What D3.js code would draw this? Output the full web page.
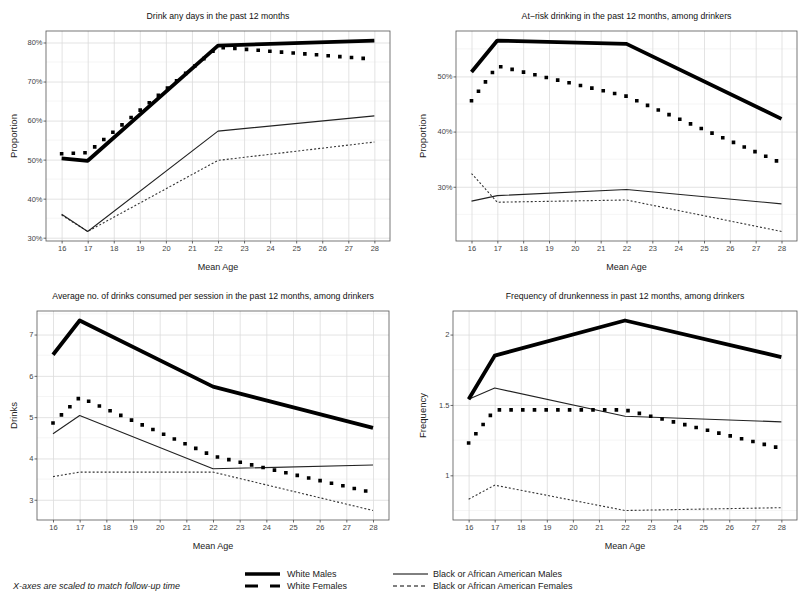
<!DOCTYPE html>
<html>
<head>
<meta charset="utf-8">
<script src="https://cdn.jsdelivr.net/npm/d3@7"></script>
<style>
  body { margin: 0; background: #fff; }
  svg { font-family: "Liberation Sans", Arial, sans-serif; }
</style>
</head>
<body>
<svg id="chart" width="800" height="594"></svg>
<script>
// mean ages at each wave
const ages = [16, 17, 22, 28];
const xTicks = [16, 17, 18, 19, 20, 21, 22, 23, 24, 25, 26, 27, 28];

const groups = ['White Males', 'White Females', 'Black or African American Males', 'Black or African American Females'];

// Drink any days in the past 12 months (%)
const anyWhiteMales = [50.3, 49.7, 79.2, 80.5];
const anyWhiteFemales = [51.5, 51.8, 78.8, 75.7];
const anyBlackMales = [36.0, 31.6, 57.3, 61.2];
const anyBlackFemales = [35.8, 31.6, 49.8, 54.5];

// At-risk drinking (%)
const riskWhiteMales = [50.8, 56.5, 55.9, 42.3];
const riskWhiteFemales = [45.6, 51.9, 46.4, 34.3];
const riskBlackMales = [27.4, 28.4, 29.5, 26.9];
const riskBlackFemales = [32.4, 27.2, 27.6, 21.9];

// Average drinks per session
const drinksWhiteMales = [6.51, 7.34, 5.74, 4.74];
const drinksWhiteFemales = [4.86, 5.48, 4.06, 3.17];
const drinksBlackMales = [4.60, 5.04, 3.75, 3.84];
const drinksBlackFemales = [3.56, 3.67, 3.67, 2.74];

// Frequency of drunkenness
const drunkWhiteMales = [1.54, 1.85, 2.10, 1.84];
const drunkWhiteFemales = [1.23, 1.465, 1.465, 1.19];
const drunkBlackMales = [1.54, 1.62, 1.42, 1.38];
const drunkBlackFemales = [0.83, 0.93, 0.75, 0.77];

const pctTicks = [30, 40, 50, 60, 70, 80];
const riskTicks = [30, 40, 50];
const drinksTicks = [3, 4, 5, 6, 7];
const drunkTicks = [1, 1.5, 2];

const panels = [
  { title: 'Drink any days in the past 12 months', yLabel: 'Proportion', yLabelX: 14,
    series: [anyWhiteMales, anyWhiteFemales, anyBlackMales, anyBlackFemales],
    ticks: pctTicks, fmt: (d) => d + '%',
    box: { left: 46, right: 390, top: 31, bottom: 241 } },
  { title: 'At\u2212risk drinking in the past 12 months, among drinkers', yLabel: 'Proportion', yLabelX: 423,
    series: [riskWhiteMales, riskWhiteFemales, riskBlackMales, riskBlackFemales],
    ticks: riskTicks, fmt: (d) => d + '%',
    box: { left: 456, right: 797, top: 31, bottom: 241 } },
  { title: 'Average no. of drinks consumed per session in the past 12 months, among drinkers', yLabel: 'Drinks', yLabelX: 14,
    series: [drinksWhiteMales, drinksWhiteFemales, drinksBlackMales, drinksBlackFemales],
    ticks: drinksTicks, fmt: (d) => String(d),
    box: { left: 37, right: 389, top: 311, bottom: 520 } },
  { title: 'Frequency of drunkenness in past 12 months, among drinkers', yLabel: 'Frequency', yLabelX: 423,
    series: [drunkWhiteMales, drunkWhiteFemales, drunkBlackMales, drunkBlackFemales],
    ticks: drunkTicks, fmt: (d) => String(d),
    box: { left: 453, right: 797, top: 311, bottom: 520 } },
];

// line look per group, drawn back to front
const styles = [
  { width: 3.8, color: '#000', dash: null, cap: 'butt' },
  { width: 3.6, color: '#000', dash: '0,11.7', cap: 'square' },
  { width: 1.1, color: '#222', dash: null, cap: 'butt' },
  { width: 1.1, color: '#333', dash: '2,2', cap: 'butt' },
];
const drawOrder = [3, 2, 1, 0];

const svg = d3.select('#chart');

panels.forEach((p) => {
  const b = p.box;
  const g = svg.append('g');

  const x = d3.scaleLinear().domain([15.4, 28.6]).range([b.left, b.right]);

  const all = p.series.flat();
  const [lo, hi] = d3.extent(all);
  const pad = (hi - lo) * 0.05;
  const y = d3.scaleLinear().domain([lo - pad, hi + pad]).range([b.bottom, b.top]);

  // minor gridlines halfway between y ticks
  const step = p.ticks[1] - p.ticks[0];
  const minor = [p.ticks[0] - step / 2, ...p.ticks.map((t) => t + step / 2)]
    .filter((t) => t > y.domain()[0] && t < y.domain()[1]);

  g.append('g')
    .selectAll('line.minor')
    .data(minor)
    .join('line')
    .attr('x1', b.left).attr('x2', b.right)
    .attr('y1', (d) => y(d)).attr('y2', (d) => y(d))
    .attr('stroke', '#efefef').attr('stroke-width', 0.6);

  g.append('g')
    .attr('transform', `translate(${b.left},0)`)
    .call(d3.axisLeft(y).tickValues(p.ticks).tickSize(-(b.right - b.left)).tickFormat(''))
    .call((s) => s.select('.domain').remove())
    .call((s) => s.selectAll('line').attr('stroke', '#dcdcdc').attr('stroke-width', 0.8));

  g.append('g')
    .attr('transform', `translate(0,${b.bottom})`)
    .call(d3.axisBottom(x).tickValues(xTicks).tickSize(-(b.bottom - b.top)).tickFormat(''))
    .call((s) => s.select('.domain').remove())
    .call((s) => s.selectAll('line').attr('stroke', '#dcdcdc').attr('stroke-width', 0.8));

  // data lines
  const line = d3.line().x((d, i) => x(ages[i])).y((d) => y(d));
  drawOrder.forEach((k) => {
    const st = styles[k];
    g.append('path')
      .datum(p.series[k])
      .attr('d', line)
      .attr('fill', 'none')
      .attr('stroke', st.color)
      .attr('stroke-width', st.width)
      .attr('stroke-linecap', st.cap)
      .attr('stroke-linejoin', 'round')
      .attr('stroke-dasharray', st.dash);
  });

  // panel border
  g.append('rect')
    .attr('x', b.left).attr('y', b.top)
    .attr('width', b.right - b.left).attr('height', b.bottom - b.top)
    .attr('fill', 'none').attr('stroke', '#555').attr('stroke-width', 0.8);

  // axes with labels
  const yAxis = g.append('g')
    .attr('transform', `translate(${b.left},0)`)
    .call(d3.axisLeft(y).tickValues(p.ticks).tickSize(2.5).tickPadding(1).tickFormat(p.fmt));
  yAxis.select('.domain').remove();

  const xAxis = g.append('g')
    .attr('transform', `translate(0,${b.bottom})`)
    .call(d3.axisBottom(x).tickValues(xTicks).tickSize(2.5).tickPadding(2));
  xAxis.select('.domain').remove();

  [yAxis, xAxis].forEach((a) => {
    a.selectAll('.tick line').attr('stroke', '#444').attr('stroke-width', 0.8);
    a.selectAll('.tick text')
      .attr('fill', '#444')
      .style('font-size', '7.5px')
      .style('font-family', '"Liberation Sans", Arial, sans-serif');
  });

  g.append('text')
    .attr('x', (b.left + b.right) / 2).attr('y', b.top - 12)
    .attr('text-anchor', 'middle')
    .attr('font-size', 8.7).attr('fill', '#111')
    .text(p.title);

  g.append('text')
    .attr('x', (b.left + b.right) / 2).attr('y', b.bottom + 29)
    .attr('text-anchor', 'middle')
    .attr('font-size', 9).attr('fill', '#222')
    .text('Mean Age');

  g.append('text')
    .attr('transform', `translate(${p.yLabelX + 3},${(b.top + b.bottom) / 2}) rotate(-90)`)
    .attr('text-anchor', 'middle')
    .attr('font-size', 9.5).attr('fill', '#222')
    .text(p.yLabel);
});

// footnote and legend
svg.append('text')
  .attr('x', 13).attr('y', 589)
  .attr('font-size', 9).attr('font-style', 'italic').attr('fill', '#222')
  .text('X-axes are scaled to match follow-up time');

const legendItems = [
  { x: 245, y: 574, dash: null, width: 3.6 },
  { x: 245, y: 586, dash: '13,12', width: 3.2 },
  { x: 393, y: 574, dash: null, width: 1 },
  { x: 393, y: 586, dash: '4,3', width: 1 },
];
legendItems.forEach((it, i) => {
  svg.append('line')
    .attr('x1', it.x).attr('x2', it.x + 35)
    .attr('y1', it.y).attr('y2', it.y)
    .attr('stroke', '#000')
    .attr('stroke-width', it.width)
    .attr('stroke-dasharray', it.dash);
  svg.append('text')
    .attr('x', it.x + (i < 2 ? 42 : 40)).attr('y', it.y + 3.2)
    .attr('font-size', 9).attr('fill', '#222')
    .text(groups[i]);
});
</script>
</body>
</html>
